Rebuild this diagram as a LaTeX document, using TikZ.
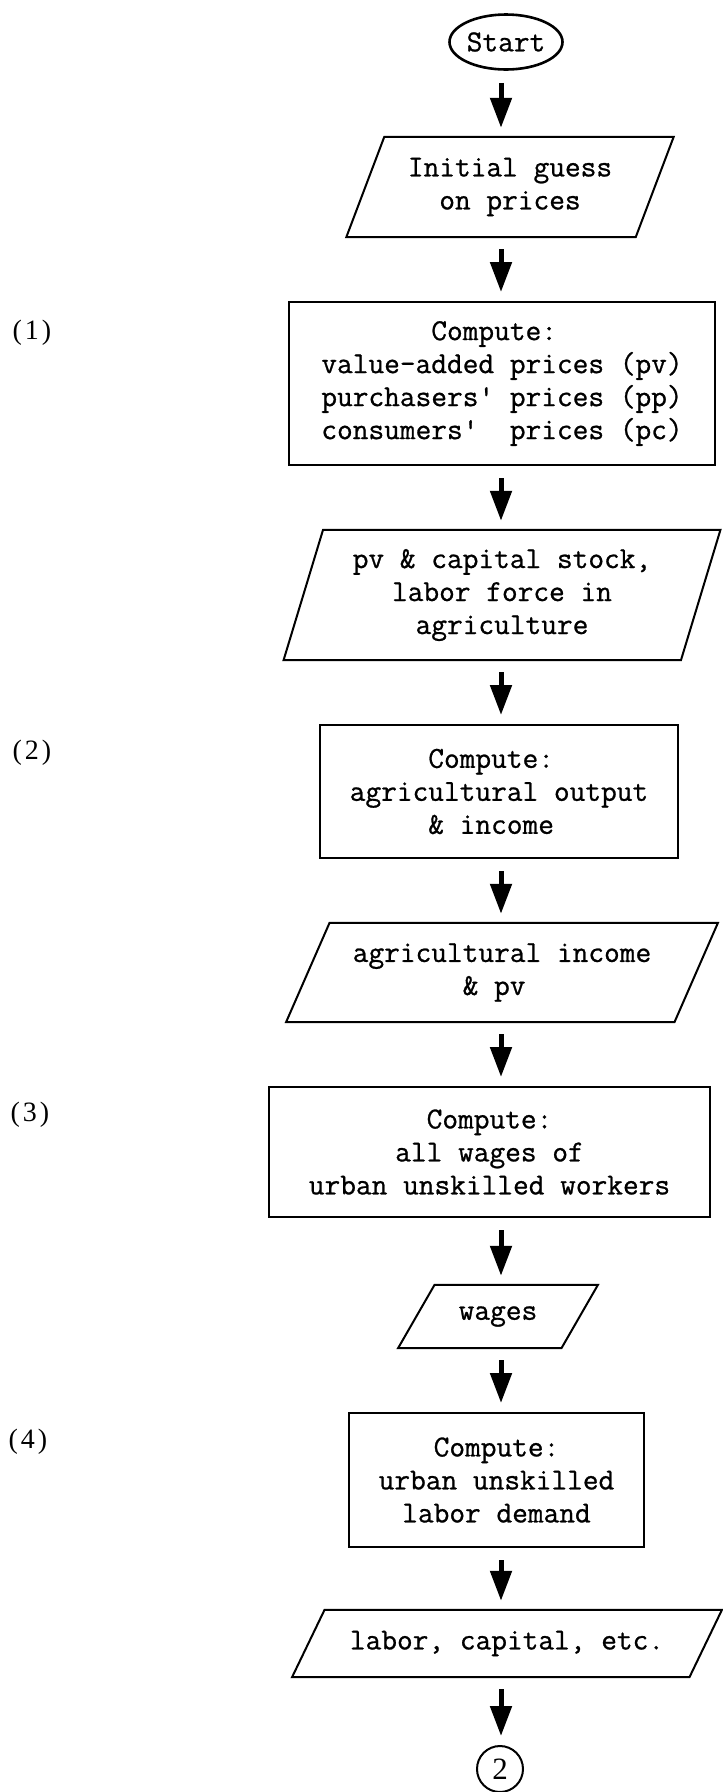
\documentclass[tikz,border=0pt]{standalone}
\usepackage{fontspec}
\newfontfamily\labelfont{Liberation Serif}
\newfontfamily\typefont{Latin Modern Mono}[FakeBold=0.8]
\usetikzlibrary{arrows.meta,shapes.geometric}

% draws a slanted input/output box around a named node
% #1 = node name, #2 = horizontal slant between top and bottom edges
\newcommand\iooutline[2]{%
  \draw[ioline] ([xshift={#2/2}]#1.north west) -- ([xshift={#2/2}]#1.north east)
    -- ([xshift={-#2/2}]#1.south east) -- ([xshift={-#2/2}]#1.south west) -- cycle;}

\begin{document}
\begin{tikzpicture}[x=1pt,y=-1pt,
  boxtext/.style={font=\typefont\fontsize{30.5}{33}\selectfont, align=center, inner sep=0pt},
  procbox/.style={boxtext, rectangle, draw, line width=2pt},
  iobox/.style={boxtext, rectangle},
  terminal/.style={boxtext, ellipse, draw, line width=2.6pt},
  connector/.style={circle, draw, line width=2pt, inner sep=0pt, minimum size=46pt,
    font=\labelfont\fontsize{31}{31}\selectfont},
  steplabel/.style={font=\labelfont\fontsize{28}{28}\selectfont, inner sep=0pt},
  flow/.style={line width=5pt, -{Triangle[length=30pt,width=21pt]},
    shorten <=12pt, shorten >=9pt},
  ioline/.style={line width=2pt, line join=miter}
]
\fill[white] (0,0) rectangle (723,1792);
\useasboundingbox (0,0) rectangle (723,1792);

\coordinate (axis) at (501,0);

% flowchart elements
\node[terminal, minimum width=113pt, minimum height=55pt] (start) at (506,42) {Start};

\node[iobox, minimum width=289pt, minimum height=100pt] (guess) at (510,187)
  {Initial guess\\on prices};
\iooutline{guess}{38}

\node[procbox, minimum width=426pt, minimum height=163pt] (prices) at (502,383.5)
  {Compute:\hphantom{x}\\value-added prices (pv)\\purchasers' prices (pp)\\consumers'\ \ prices (pc)};

\node[iobox, minimum width=397pt, minimum height=130pt] (capital) at (502,595)
  {pv \& capital stock,\\labor force in\\agriculture};
\iooutline{capital}{39.5}

\node[procbox, minimum width=358pt, minimum height=133pt] (agri) at (499,791.5)
  {Compute:\hphantom{x}\\agricultural output\\\& income\hphantom{x}};

\node[iobox, minimum width=388pt, minimum height=99pt] (income) at (502,972.5)
  {agricultural income\\\& pv\hphantom{x}};
\iooutline{income}{43.5}

\node[procbox, minimum width=441pt, minimum height=130pt] (wagecomp) at (489.5,1152)
  {Compute:\\all wages of\\urban unskilled workers};

\node[iobox, minimum width=163pt, minimum height=63pt] (wages) at (498,1316.5) {wages};
\iooutline{wages}{36.5}

\node[procbox, minimum width=295pt, minimum height=134pt] (demand) at (496.5,1480)
  {Compute:\\urban unskilled\\labor demand};

\node[iobox, minimum width=397pt, minimum height=67pt] (factors) at (507,1643.5)
  {labor, capital, etc.};
\iooutline{factors}{32.5}

\node[connector] (next) at (500,1769) {2};

% step numbers
\node[steplabel] (l1) at (32,333) {(\kern3pt1\kern3pt)};
\node[steplabel] (l2) at (32,753) {(\kern3pt2\kern3pt)};
\node[steplabel] (l3) at (30,1115) {(\kern3pt3\kern3pt)};
\node[steplabel] (l4) at (28,1442) {(\kern3pt4\kern3pt)};

% connectors
\draw[flow] (start.south -| axis) -- (guess.north -| axis);
\draw[flow] (guess.south -| axis) -- (prices.north -| axis);
\draw[flow] (prices.south -| axis) -- (capital.north -| axis);
\draw[flow] (capital.south -| axis) -- (agri.north -| axis);
\draw[flow] (agri.south -| axis) -- (income.north -| axis);
\draw[flow] (income.south -| axis) -- (wagecomp.north -| axis);
\draw[flow] (wagecomp.south -| axis) -- (wages.north -| axis);
\draw[flow] (wages.south -| axis) -- (demand.north -| axis);
\draw[flow] (demand.south -| axis) -- (factors.north -| axis);
\draw[flow] (factors.south -| axis) -- (next.north -| axis);
\end{tikzpicture}
\end{document}
